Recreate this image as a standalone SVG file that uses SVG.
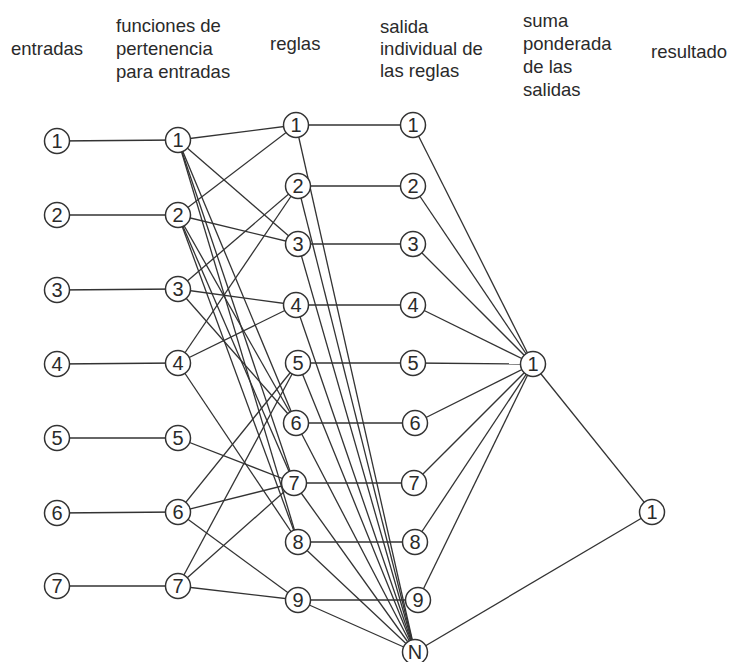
<svg xmlns="http://www.w3.org/2000/svg" width="732" height="662" viewBox="0 0 732 662">
  <style>
    .hdr { font-family: "Liberation Sans", Arial, sans-serif; font-size: 18.5px; fill: #2a2a2a; }
    .edge { stroke: #333; stroke-width: 1.3; fill: none; }
    .node circle { fill: #fff; stroke: #333; stroke-width: 1.5; }
    .node text { font-family: "Liberation Sans", Arial, sans-serif; font-size: 20px; fill: #2a2a2a; text-anchor: middle; }
  </style>
  <rect width="732" height="662" fill="#fff"/>

  <!-- column headers -->
  <g id="headers">
    <text class="hdr" x="11" y="55">entradas</text>
    <text class="hdr" x="116" y="32">funciones de</text>
    <text class="hdr" x="116" y="55">pertenencia</text>
    <text class="hdr" x="116" y="78">para entradas</text>
    <text class="hdr" x="270" y="50">reglas</text>
    <text class="hdr" x="380" y="33">salida</text>
    <text class="hdr" x="380" y="55">individual de</text>
    <text class="hdr" x="380" y="77">las reglas</text>
    <text class="hdr" x="523" y="27">suma</text>
    <text class="hdr" x="523" y="50">ponderada</text>
    <text class="hdr" x="523" y="73">de las</text>
    <text class="hdr" x="523" y="96">salidas</text>
    <text class="hdr" x="651" y="58">resultado</text>
  </g>

  <!-- connectors -->
  <g id="connectors" class="edge">
    <!-- inputs to membership functions -->
    <line x1="57" y1="141" x2="178" y2="140"/>
    <line x1="57" y1="215" x2="178" y2="215"/>
    <line x1="57" y1="290" x2="178" y2="289"/>
    <line x1="57" y1="364" x2="178" y2="363"/>
    <line x1="57" y1="438" x2="178" y2="438"/>
    <line x1="57" y1="513" x2="178" y2="512"/>
    <line x1="57" y1="586" x2="178" y2="586"/>

    <!-- membership functions to rules -->
    <line x1="178" y1="140" x2="296" y2="125"/>
    <line x1="178" y1="140" x2="298" y2="244"/>
    <line x1="178" y1="140" x2="296" y2="423"/>
    <line x1="178" y1="140" x2="294" y2="483"/>
    <line x1="178" y1="140" x2="298" y2="542"/>
    <line x1="178" y1="215" x2="296" y2="125"/>
    <line x1="178" y1="215" x2="298" y2="244"/>
    <line x1="178" y1="215" x2="296" y2="423"/>
    <line x1="178" y1="215" x2="294" y2="483"/>
    <line x1="178" y1="215" x2="298" y2="542"/>
    <line x1="178" y1="289" x2="298" y2="186"/>
    <line x1="178" y1="289" x2="296" y2="305"/>
    <line x1="178" y1="289" x2="296" y2="423"/>
    <line x1="178" y1="363" x2="298" y2="186"/>
    <line x1="178" y1="363" x2="296" y2="305"/>
    <line x1="178" y1="363" x2="298" y2="542"/>
    <line x1="178" y1="438" x2="294" y2="483"/>
    <line x1="178" y1="512" x2="298" y2="363"/>
    <line x1="178" y1="512" x2="294" y2="483"/>
    <line x1="178" y1="512" x2="298" y2="600"/>
    <line x1="178" y1="586" x2="298" y2="363"/>
    <line x1="178" y1="586" x2="294" y2="483"/>
    <line x1="178" y1="586" x2="298" y2="600"/>

    <!-- rules to individual outputs -->
    <line x1="296" y1="125" x2="413" y2="125"/>
    <line x1="298" y1="186" x2="413" y2="186"/>
    <line x1="298" y1="244" x2="413" y2="244"/>
    <line x1="296" y1="305" x2="413" y2="305"/>
    <line x1="298" y1="363" x2="413" y2="363"/>
    <line x1="296" y1="423" x2="415" y2="423"/>
    <line x1="294" y1="483" x2="414" y2="483"/>
    <line x1="298" y1="542" x2="415" y2="542"/>
    <line x1="298" y1="600" x2="418" y2="600"/>

    <!-- rules to normalisation node N -->
    <line x1="296" y1="125" x2="415" y2="652"/>
    <line x1="298" y1="186" x2="415" y2="652"/>
    <line x1="298" y1="244" x2="415" y2="652"/>
    <line x1="296" y1="305" x2="415" y2="652"/>
    <line x1="298" y1="363" x2="415" y2="652"/>
    <line x1="296" y1="423" x2="415" y2="652"/>
    <line x1="294" y1="483" x2="415" y2="652"/>
    <line x1="298" y1="542" x2="415" y2="652"/>
    <line x1="298" y1="600" x2="415" y2="652"/>

    <!-- individual outputs to weighted sum -->
    <line x1="413" y1="125" x2="533" y2="364"/>
    <line x1="413" y1="186" x2="533" y2="364"/>
    <line x1="413" y1="244" x2="533" y2="364"/>
    <line x1="413" y1="305" x2="533" y2="364"/>
    <line x1="413" y1="363" x2="533" y2="364"/>
    <line x1="415" y1="423" x2="533" y2="364"/>
    <line x1="414" y1="483" x2="533" y2="364"/>
    <line x1="415" y1="542" x2="533" y2="364"/>
    <line x1="418" y1="600" x2="533" y2="364"/>

    <!-- to result -->
    <line x1="533" y1="364" x2="652" y2="512"/>
    <line x1="415" y1="652" x2="652" y2="512"/>
  </g>

  <!-- input nodes -->
  <g id="in1" class="node"><circle cx="57" cy="141" r="12.5"/><text x="57" y="148">1</text></g>
  <g id="in2" class="node"><circle cx="57" cy="215" r="12.5"/><text x="57" y="222">2</text></g>
  <g id="in3" class="node"><circle cx="57" cy="290" r="12.5"/><text x="57" y="297">3</text></g>
  <g id="in4" class="node"><circle cx="57" cy="364" r="12.5"/><text x="57" y="371">4</text></g>
  <g id="in5" class="node"><circle cx="57" cy="438" r="12.5"/><text x="57" y="445">5</text></g>
  <g id="in6" class="node"><circle cx="57" cy="513" r="12.5"/><text x="57" y="520">6</text></g>
  <g id="in7" class="node"><circle cx="57" cy="586" r="12.5"/><text x="57" y="593">7</text></g>

  <!-- membership function nodes -->
  <g id="mf1" class="node"><circle cx="178" cy="140" r="12.5"/><text x="178" y="147">1</text></g>
  <g id="mf2" class="node"><circle cx="178" cy="215" r="12.5"/><text x="178" y="222">2</text></g>
  <g id="mf3" class="node"><circle cx="178" cy="289" r="12.5"/><text x="178" y="296">3</text></g>
  <g id="mf4" class="node"><circle cx="178" cy="363" r="12.5"/><text x="178" y="370">4</text></g>
  <g id="mf5" class="node"><circle cx="178" cy="438" r="12.5"/><text x="178" y="445">5</text></g>
  <g id="mf6" class="node"><circle cx="178" cy="512" r="12.5"/><text x="178" y="519">6</text></g>
  <g id="mf7" class="node"><circle cx="178" cy="586" r="12.5"/><text x="178" y="593">7</text></g>

  <!-- rule nodes -->
  <g id="rule1" class="node"><circle cx="296" cy="125" r="12.5"/><text x="296" y="132">1</text></g>
  <g id="rule2" class="node"><circle cx="298" cy="186" r="12.5"/><text x="298" y="193">2</text></g>
  <g id="rule3" class="node"><circle cx="298" cy="244" r="12.5"/><text x="298" y="251">3</text></g>
  <g id="rule4" class="node"><circle cx="296" cy="305" r="12.5"/><text x="296" y="312">4</text></g>
  <g id="rule5" class="node"><circle cx="298" cy="363" r="12.5"/><text x="298" y="370">5</text></g>
  <g id="rule6" class="node"><circle cx="296" cy="423" r="12.5"/><text x="296" y="430">6</text></g>
  <g id="rule7" class="node"><circle cx="294" cy="483" r="12.5"/><text x="294" y="490">7</text></g>
  <g id="rule8" class="node"><circle cx="298" cy="542" r="12.5"/><text x="298" y="549">8</text></g>
  <g id="rule9" class="node"><circle cx="298" cy="600" r="12.5"/><text x="298" y="607">9</text></g>

  <!-- individual rule output nodes -->
  <g id="out1" class="node"><circle cx="413" cy="125" r="12.5"/><text x="413" y="132">1</text></g>
  <g id="out2" class="node"><circle cx="413" cy="186" r="12.5"/><text x="413" y="193">2</text></g>
  <g id="out3" class="node"><circle cx="413" cy="244" r="12.5"/><text x="413" y="251">3</text></g>
  <g id="out4" class="node"><circle cx="413" cy="305" r="12.5"/><text x="413" y="312">4</text></g>
  <g id="out5" class="node"><circle cx="413" cy="363" r="12.5"/><text x="413" y="370">5</text></g>
  <g id="out6" class="node"><circle cx="415" cy="423" r="12.5"/><text x="415" y="430">6</text></g>
  <g id="out7" class="node"><circle cx="414" cy="483" r="12.5"/><text x="414" y="490">7</text></g>
  <g id="out8" class="node"><circle cx="415" cy="542" r="12.5"/><text x="415" y="549">8</text></g>
  <g id="out9" class="node"><circle cx="418" cy="600" r="12.5"/><text x="418" y="607">9</text></g>
  <g id="outN" class="node"><circle cx="415" cy="652" r="12.5"/><text x="415" y="659">N</text></g>

  <!-- weighted sum node -->
  <g id="sum1" class="node"><circle cx="533" cy="364" r="12.5"/><text x="533" y="371">1</text></g>

  <!-- result node -->
  <g id="result1" class="node"><circle cx="652" cy="512" r="12.5"/><text x="652" y="519">1</text></g>
</svg>
